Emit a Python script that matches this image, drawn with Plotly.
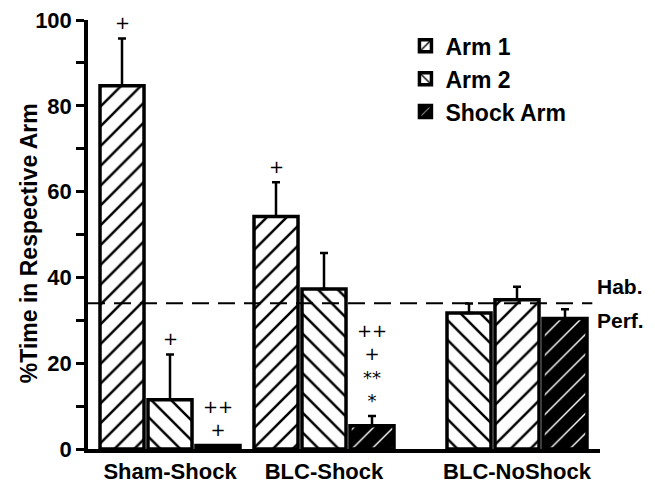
import plotly.graph_objects as go

groups = ["Sham-Shock", "BLC-Shock", "BLC-NoShock"]
series_names = ["Arm 1", "Arm 2", "Shock Arm"]
means = {
    "Arm 1": [84.7, 54.2, 31.7],
    "Arm 2": [11.5, 37.3, 34.8],
    "Shock Arm": [0.8, 5.4, 30.4],
}
sem = {
    "Arm 1": [11.0, 8.0, 2.2],
    "Arm 2": [10.5, 8.4, 3.0],
    "Shock Arm": [0.0, 2.3, 2.2],
}
sig = {
    "Arm 1": ["+", "+", ""],
    "Arm 2": ["+", "", ""],
    "Shock Arm": ["++<br>+", "++<br>+<br>**<br>*", ""],
}
hab_perf = 34
group_pos = [82, 236, 429]  # uneven spacing of groups along the axis
y_ticks = [0, 20, 40, 60, 80, 100]

patterns = {
    "Arm 1": ["/", "/", "\\"],
    "Arm 2": ["\\", "\\", "/"],
    "Shock Arm": ["/", "/", "/"],
}

FONT = "Liberation Sans, Arial, Helvetica, sans-serif"

fig = go.Figure()
for s in series_names:
    dark = s == "Shock Arm"
    fig.add_trace(go.Bar(
        name=f"<b>{s}</b>",
        x=group_pos,
        y=means[s],
        marker=dict(
            color="black" if dark else "white",
            line=dict(color="black", width=3.5),
            pattern=dict(
                shape=patterns[s],
                fgcolor="white" if dark else "black",
                bgcolor="black" if dark else "white",
                size=14,
                solidity=0.1 if dark else 0.18,
            ),
        ),
        error_y=dict(type="data", array=sem[s], arrayminus=[0] * len(groups),
                     symmetric=False, color="black", thickness=2.5, width=4),
    ))

fig.update_layout(
    template="none",
    width=655, height=485,
    margin=dict(l=88, r=55, t=20, b=36),
    paper_bgcolor="white", plot_bgcolor="white",
    barmode="group", bargap=0.065, bargroupgap=0.083,
    font=dict(family=FONT, size=22, color="black"),
    showlegend=True,
    legend=dict(x=0.62, y=0.99, xanchor="left", yanchor="top",
                font=dict(family=FONT, size=23, color="black"),
                bgcolor="rgba(0,0,0,0)", tracegroupgap=0, itemwidth=30),
)

fig.update_xaxes(
    range=[0, 512], tickvals=group_pos, ticktext=[f"<b>{g}</b>" for g in groups],
    showline=True, linecolor="black", linewidth=3.5, ticks="", showgrid=False,
    zeroline=False, tickfont=dict(family=FONT, size=22, color="black"),
)
fig.update_yaxes(
    range=[0, 100], tickvals=y_ticks, ticktext=[f"<b>{t}</b>" for t in y_ticks],
    showline=True, linecolor="black", linewidth=3.5, ticks="outside", ticklen=8,
    tickwidth=2.5, tickcolor="black", showgrid=False, zeroline=False,
    minor=dict(dtick=10, ticks="outside", ticklen=8, tickwidth=2.5, tickcolor="black", showgrid=False),
    tickfont=dict(family=FONT, size=22, color="black"),
)
fig.add_annotation(text="<b>%Time in Respective Arm</b>", textangle=-90,
                   xref="paper", x=-0.115, xanchor="center",
                   yref="paper", y=0.48, yanchor="middle", showarrow=False,
                   font=dict(family=FONT, size=23, color="black"))

fig.add_shape(type="line", xref="paper", x0=0, x1=0.985, yref="y", y0=hab_perf, y1=hab_perf,
              line=dict(color="black", width=2, dash="17px,9px"))
fig.add_annotation(text="<b>Hab.</b>", xref="paper", x=0.99, yref="y", y=hab_perf + 0.8,
                   xanchor="left", yanchor="bottom", showarrow=False,
                   font=dict(family=FONT, size=21, color="black"))
fig.add_annotation(text="<b>Perf.</b>", xref="paper", x=0.99, yref="y", y=hab_perf - 0.8,
                   xanchor="left", yanchor="top", showarrow=False,
                   font=dict(family=FONT, size=21, color="black"))

slot = 48
for si, s in enumerate(series_names):
    for gi, g in enumerate(groups):
        if not sig[s][gi]:
            continue
        fig.add_annotation(
            text=sig[s][gi], x=group_pos[gi] + (si - 1) * slot, xref="x",
            y=means[s][gi] + sem[s][gi] + 0.8, yref="y", yanchor="bottom",
            showarrow=False, font=dict(family="DejaVu Sans", size=18, color="black"),
        )

fig.write_html("out.html")
